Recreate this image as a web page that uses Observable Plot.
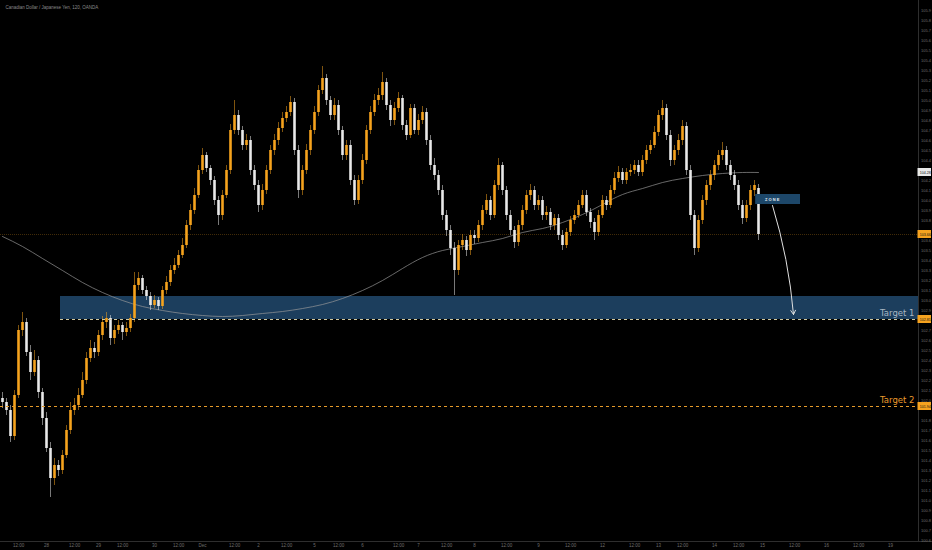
<!DOCTYPE html>
<html>
<head>
<meta charset="utf-8">
<script src="https://cdn.jsdelivr.net/npm/d3@7"></script>
<script src="https://cdn.jsdelivr.net/npm/@observablehq/plot@0.6"></script>
<style>
  html, body { margin: 0; padding: 0; background: #000; }
  #chart svg { display: block; }
</style>
</head>
<body>
<div id="chart"></div>
<script>
const title = "Canadian Dollar / Japanese Yen, 120, OANDA";

const open = [
102.02,101.98,101.90,101.64,102.05,102.70,102.78,102.48,102.28,102.40,
102.08,101.82,101.52,101.22,101.35,101.30,101.45,101.70,101.90,101.95,
102.05,102.20,102.42,102.52,102.48,102.65,102.78,102.82,102.62,102.70,
102.75,102.68,102.72,102.82,103.15,103.22,103.10,103.04,102.95,103.00,
102.94,103.10,103.18,103.30,103.35,103.45,103.55,103.75,103.90,104.05,
104.30,104.45,104.32,104.20,104.00,103.85,104.05,104.30,104.70,104.85,
104.70,104.55,104.60,104.30,104.15,103.95,104.10,104.30,104.50,104.60,
104.72,104.82,104.88,104.98,104.50,104.10,104.30,104.50,104.70,104.88,
105.10,105.22,105.00,104.85,104.95,104.70,104.45,104.55,104.20,104.00,
104.20,104.40,104.70,104.88,105.00,105.05,105.18,104.95,104.80,104.92,
105.02,104.75,104.65,104.92,104.70,104.80,104.88,104.60,104.35,104.25,
104.10,103.85,103.70,103.52,103.30,103.55,103.60,103.50,103.65,103.62,
103.75,103.90,104.00,103.85,104.15,104.35,104.10,103.85,103.70,103.58,
103.75,103.90,104.05,104.10,103.95,104.00,103.85,103.88,103.75,103.82,
103.65,103.55,103.68,103.80,103.85,103.95,104.05,103.88,103.78,103.68,
103.85,104.00,103.95,104.10,104.22,104.28,104.20,104.28,104.30,104.35,
104.28,104.40,104.50,104.55,104.68,104.85,104.92,104.65,104.40,104.50,
104.60,104.74,104.30,103.85,103.52,103.80,104.00,104.15,104.25,104.35,
104.45,104.50,104.35,104.25,104.15,103.95,103.82,103.95,104.10,104.12];

const close = [
101.98,101.90,101.64,102.05,102.70,102.78,102.48,102.28,102.40,102.08,
101.82,101.52,101.22,101.35,101.30,101.45,101.70,101.90,101.95,102.05,
102.20,102.42,102.52,102.48,102.65,102.78,102.82,102.62,102.70,102.75,
102.68,102.72,102.82,103.15,103.22,103.10,103.04,102.95,103.00,102.94,
103.10,103.18,103.30,103.35,103.45,103.55,103.75,103.90,104.05,104.30,
104.45,104.32,104.20,104.00,103.85,104.05,104.30,104.70,104.85,104.70,
104.55,104.60,104.30,104.15,103.95,104.10,104.30,104.50,104.60,104.72,
104.82,104.88,104.98,104.50,104.10,104.30,104.50,104.70,104.88,105.10,
105.22,105.00,104.85,104.95,104.70,104.45,104.55,104.20,104.00,104.20,
104.40,104.70,104.88,105.00,105.05,105.18,104.95,104.80,104.92,105.02,
104.75,104.65,104.92,104.70,104.80,104.88,104.60,104.35,104.25,104.10,
103.85,103.70,103.52,103.30,103.55,103.60,103.50,103.65,103.62,103.75,
103.90,104.00,103.85,104.15,104.35,104.10,103.85,103.70,103.58,103.75,
103.90,104.05,104.10,103.95,104.00,103.85,103.88,103.75,103.82,103.65,
103.55,103.68,103.80,103.85,103.95,104.05,103.88,103.78,103.68,103.85,
104.00,103.95,104.10,104.22,104.28,104.20,104.28,104.30,104.35,104.28,
104.40,104.50,104.55,104.68,104.85,104.92,104.65,104.40,104.50,104.60,
104.74,104.30,103.85,103.52,103.80,104.00,104.15,104.25,104.35,104.45,
104.50,104.35,104.25,104.15,103.95,103.82,103.95,104.10,104.15,103.66];

const high = [
102.08,102.02,101.95,102.10,102.75,102.88,102.82,102.55,102.50,102.44,
102.12,101.88,101.58,101.42,101.40,101.50,101.75,101.98,102.02,102.12,
102.28,102.48,102.60,102.58,102.70,102.84,102.88,102.85,102.75,102.80,
102.78,102.78,102.86,103.28,103.28,103.25,103.14,103.08,103.05,103.03,
103.14,103.24,103.35,103.42,103.50,103.62,103.80,103.96,104.12,104.35,
104.52,104.48,104.35,104.24,104.04,104.10,104.35,104.76,105.00,104.90,
104.74,104.66,104.64,104.35,104.20,104.16,104.35,104.55,104.66,104.78,
104.88,104.94,105.04,105.02,104.55,104.35,104.56,104.75,104.94,105.15,
105.34,105.26,105.04,105.02,105.00,104.74,104.60,104.60,104.25,104.25,
104.46,104.75,104.94,105.06,105.12,105.28,105.22,105.00,104.98,105.08,
105.05,104.80,104.96,104.96,104.86,104.94,104.92,104.65,104.42,104.30,
104.15,103.90,103.75,103.58,103.60,103.66,103.64,103.70,103.70,103.80,
103.95,104.06,104.04,104.20,104.42,104.38,104.14,103.90,103.74,103.80,
103.95,104.10,104.16,104.14,104.05,104.04,103.94,103.92,103.86,103.86,
103.70,103.72,103.84,103.90,104.00,104.10,104.10,103.92,103.82,103.90,
104.05,104.04,104.15,104.28,104.34,104.32,104.32,104.36,104.40,104.40,
104.45,104.55,104.60,104.74,104.90,105.00,104.96,104.70,104.55,104.66,
104.80,104.78,104.35,103.90,103.85,104.05,104.20,104.30,104.40,104.50,
104.58,104.54,104.40,104.30,104.20,104.00,104.00,104.15,104.20,104.16];

const low = [
101.92,101.85,101.58,101.60,102.02,102.64,102.44,102.20,102.24,102.02,
101.75,101.48,101.03,101.15,101.24,101.26,101.42,101.66,101.85,101.90,
102.02,102.16,102.38,102.42,102.44,102.60,102.72,102.55,102.56,102.66,
102.60,102.64,102.68,102.78,103.10,103.06,103.00,102.90,102.92,102.90,
102.91,103.06,103.14,103.26,103.32,103.42,103.52,103.70,103.86,104.02,
104.26,104.28,104.15,103.95,103.75,103.80,104.02,104.26,104.66,104.65,
104.50,104.50,104.25,104.10,103.88,103.90,104.06,104.26,104.45,104.55,
104.68,104.78,104.84,104.45,104.02,104.05,104.26,104.45,104.66,104.84,
105.06,104.95,104.80,104.80,104.65,104.40,104.40,104.15,103.95,103.96,
104.16,104.36,104.66,104.84,104.95,105.00,104.90,104.74,104.75,104.88,
104.70,104.60,104.62,104.66,104.65,104.76,104.55,104.30,104.20,104.05,
103.80,103.64,103.45,103.05,103.25,103.50,103.44,103.45,103.56,103.58,
103.70,103.86,103.80,103.82,104.10,104.05,103.80,103.65,103.52,103.54,
103.70,103.86,104.00,103.90,103.90,103.80,103.80,103.70,103.70,103.60,
103.50,103.52,103.64,103.76,103.82,103.92,103.84,103.72,103.60,103.64,
103.82,103.90,103.92,104.06,104.18,104.16,104.16,104.24,104.26,104.24,
104.24,104.36,104.46,104.52,104.64,104.80,104.60,104.34,104.35,104.45,
104.55,104.25,103.80,103.45,103.48,103.76,103.95,104.10,104.20,104.30,
104.40,104.30,104.20,104.10,103.90,103.76,103.78,103.90,104.04,103.60];

// moving average read every 5 bars
const maIndex = [0,5,10,15,20,25,30,35,40,45,50,55,60,65,70,75,80,85,90,95,100,105,110,115,120,125,130,135,140,145,150,155,160,165,170,175,180,185,189];
const maValue = [103.64,103.54,103.42,103.30,103.18,103.08,103.00,102.94,102.90,102.87,102.85,102.84,102.85,102.87,102.89,102.92,102.96,103.02,103.10,103.20,103.32,103.43,103.50,103.54,103.58,103.62,103.68,103.72,103.78,103.86,103.96,104.06,104.12,104.18,104.22,104.25,104.27,104.28,104.28];

// time axis
const timeTickPos = [4,11,18,24,30,38,44,50,58,64,71,78,84,90,99,104,111,118,126,134,142,150,158,164,170,178,184,190,198,206,214,222];
const timeTickLabels = ["12:00","28","12:00","29","12:00","30","12:00","Dec","12:00","2","12:00","5","12:00","6","12:00","7","12:00","8","12:00","9","12:00","12","12:00","13","12:00","14","12:00","15","12:00","16","12:00","19"];

// annotations
const zoneLow = 102.81, zoneHigh = 103.04, zoneStart = 14.5;
const target1 = 102.81, target2 = 101.94;
const lastPrice = 103.66;
const maLast = 104.28;
const smallZone = {x1: 188.3, x2: 199.5, y1: 103.96, y2: 104.06};
const arrowFrom = {x: 192.5, y: 103.95};
const arrowTo = {x: 197.75, y: 102.86};
const tagPrices = [maLast, lastPrice, target1, target2];
const tagFills = ["#e8e8e8", "#f5a21f", "#f5a21f", "#f5a21f"];

const xMin = -0.5, xMax = 229;
const yMin = 100.59, yMax = 106.0;

const UP = "#f6a31d", DOWN = "#e9e9e9";
const AXIS_FONT = "Liberation Sans, Arial, sans-serif";
const bars = open.map((o, i) => ({i, o, c: close[i], h: high[i], l: low[i], up: close[i] >= o}));
const ma = maIndex.map((i, k) => ({i, v: maValue[k]}));
const labelOf = new Map(timeTickPos.map((p, k) => [p, timeTickLabels[k]]));
const yTicks = d3.range(1006, 1060).map(v => v / 10)
  .filter(t => tagPrices.every(p => Math.abs(p - t) > 0.06));

const chart = Plot.plot({
  width: 932, height: 550,
  marginLeft: 0, marginRight: 14, marginTop: 0, marginBottom: 9,
  style: {background: "#000", color: "#7a7a7a", fontFamily: AXIS_FONT},
  x: {domain: [xMin, xMax], axis: null},
  y: {domain: [yMin, yMax], axis: null},
  marks: [
    // zone
    Plot.rect([0], {x1: () => zoneStart, x2: () => xMax, y1: () => zoneLow, y2: () => zoneHigh, fill: "#1c3e5d"}),
    // last price line
    Plot.ruleY([lastPrice], {x1: xMin, x2: xMax, stroke: "#f5a21f", strokeOpacity: 0.45, strokeWidth: 0.6, strokeDasharray: "1,1"}),
    // MA
    Plot.line(ma, {x: "i", y: "v", curve: "natural", stroke: "#9a9a9a", strokeWidth: 0.8, strokeOpacity: 0.85}),
    // wicks
    Plot.ruleX(bars, {x: "i", y1: "l", y2: "h", stroke: d => d.up ? UP : DOWN, strokeOpacity: 0.65, strokeWidth: 0.8}),
    // bodies
    Plot.ruleX(bars, {x: "i", y1: "o", y2: "c", stroke: d => d.up ? UP : DOWN, strokeWidth: 2.6}),
    // target lines
    Plot.ruleY([target1], {x1: zoneStart, x2: xMax, stroke: "#d2caa0", strokeWidth: 1, strokeDasharray: "3,3"}),
    Plot.ruleY([target2], {x1: xMin, x2: xMax, stroke: "#e59a2a", strokeWidth: 1, strokeDasharray: "3,3"}),
    Plot.text(["Target 1"], {x: xMax, y: target1, dx: -4, dy: -6, textAnchor: "end", fontSize: 8.5, fill: "#a9b6c2", fontFamily: "DejaVu Sans, sans-serif"}),
    Plot.text(["Target 2"], {x: xMax, y: target2, dx: -4, dy: -6, textAnchor: "end", fontSize: 8.5, fill: "#eb9a2c", fontFamily: "DejaVu Sans, sans-serif"}),
    // small zone tag
    Plot.rect([smallZone], {x1: "x1", x2: "x2", y1: "y1", y2: "y2", fill: "#1d4769"}),
    Plot.text(["Z O N E"], {x: (smallZone.x1 + smallZone.x2) / 2 - 1.5, y: (smallZone.y1 + smallZone.y2) / 2, fontSize: 4, fontWeight: "bold", fill: "#e8eef4"}),
    // arrow
    Plot.arrow([0], {x1: () => arrowFrom.x, y1: () => arrowFrom.y, x2: () => arrowTo.x, y2: () => arrowTo.y, bend: 6, stroke: "#e0e0e0", strokeWidth: 1, headLength: 7}),
    // axes frame lines
    Plot.ruleX([xMax], {y1: yMin, y2: yMax, stroke: "#2e2e2e", strokeWidth: 1}),
    Plot.ruleY([yMin], {x1: xMin, x2: xMax + 3.5, stroke: "#2e2e2e", strokeWidth: 1}),
    // y axis
    Plot.axisY({anchor: "right", ticks: yTicks, tickFormat: d => d.toFixed(1), tickSize: 0, tickPadding: 2.5, fontSize: 4, fill: "#6f6f6f"}),
    // axis tags
    Plot.rect(tagPrices, {x1: () => xMax, x2: () => xMax, y1: d => d - 0.04, y2: d => d + 0.04, insetLeft: -0.5, insetRight: -13, fill: (d, k) => tagFills[k]}),
    Plot.text(tagPrices, {x: () => xMax, y: d => d, dx: 6.8, text: d => d.toFixed(2), fontSize: 3.6, fill: "#111"}),
    // x axis
    Plot.axisX({ticks: timeTickPos, tickFormat: d => labelOf.get(d), tickSize: 0, tickPadding: 2, fontSize: 4.5, fill: "#6f6f6f"}),
    // title
    Plot.text([title], {frameAnchor: "top-left", dx: 5, dy: 5, textAnchor: "start", fontSize: 4.5, fill: "#8a8a8a"})
  ]
});
document.getElementById("chart").appendChild(chart);
</script>
</body>
</html>
